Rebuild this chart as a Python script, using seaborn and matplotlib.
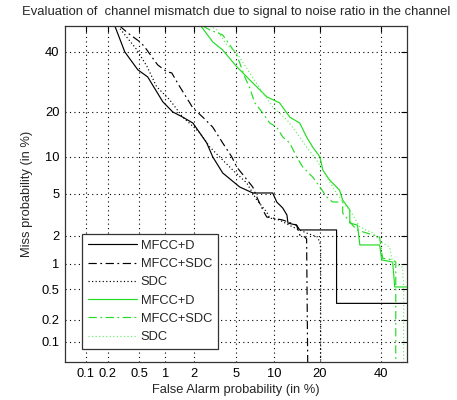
import math
import numpy as np
import pandas as pd
import matplotlib
matplotlib.use("Agg")
import matplotlib.pyplot as plt
import seaborn as sns

# ---- data (percent) ----
tick_values = [0.1, 0.2, 0.5, 1, 2, 5, 10, 20, 40]
tick_labels = ["0.1", "0.2", "0.5", "1", "2", "5", "10", "20", "40"]

fa_k_mfccd = [0.247, 0.331, 0.48, 0.63, 0.94, 1.21, 1.55, 1.97, 2.70, 3.08, 3.81, 5.38, 6.89,
              9.82, 10.5, 11.6, 12.4, 12.6, 14.4, 15.1, 24.9, 24.9, 60.0]
miss_k_mfccd = [50.0, 40.0, 33.4, 30.9, 22.9, 20.0, 18.6, 17.1, 12.6, 10.0, 7.5, 5.74, 5.1,
                5.1, 4.24, 3.73, 3.21, 2.68, 2.56, 2.29, 2.29, 0.33, 0.33]

fa_k_mfccsdc = [0.286, 0.36, 0.51, 0.58, 0.72, 0.82, 1.04, 1.18, 1.44, 1.75, 1.97, 2.47, 3.08,
                3.81, 4.59, 5.07, 5.93, 6.89, 7.42, 8.27, 8.86, 9.82, 11.6, 14.4, 15.1, 16.3,
                16.7, 17.0]
miss_k_mfccsdc = [50.0, 47.3, 43.8, 41.9, 37.7, 35.2, 32.7, 32.3, 27.6, 23.5, 21.1, 18.6, 16.1,
                  12.6, 10.0, 8.36, 6.96, 5.74, 4.70, 3.58, 3.07, 3.0, 2.87, 2.56, 2.03, 1.94,
                  1.85, 0.03]

fa_k_sdc = [0.27, 0.47, 0.62, 0.80, 1.12, 1.55, 2.31, 2.89, 3.81, 4.68, 6.16, 7.42, 8.86, 9.33,
            11.0, 13.6, 16.7, 19.5, 20.3, 20.3]
miss_k_sdc = [50.0, 40.7, 34.5, 27.6, 23.5, 18.6, 14.8, 11.8, 9.47, 7.92, 6.2, 4.42, 3.42, 3.0,
              2.87, 2.45, 2.13, 1.94, 1.6, 0.03]

fa_g_mfccd = [2.37, 3.08, 3.81, 5.07, 6.51, 8.86, 11.0, 12.97, 15.1, 16.7, 18.2, 20.1, 20.9,
              22.8, 25.8, 26.8, 29.1, 29.1, 31.7, 32.5, 39.6, 40.4, 44.5, 45.3, 60.0]
miss_g_mfccd = [50.0, 43.8, 40.7, 34.5, 29.9, 24.4, 22.6, 18.6, 17.1, 13.85, 11.8, 10.0, 7.92,
                6.58, 5.41, 4.42, 3.58, 2.68, 2.56, 1.6, 1.6, 1.10, 1.04, 0.53, 0.53]

fa_g_mfccsdc = [2.47, 2.89, 3.81, 5.07, 5.93, 6.51, 7.15, 8.27, 9.33, 10.5, 11.6, 12.97, 14.4,
                15.8, 18.2, 20.1, 22.0, 23.7, 26.8, 26.8, 31.4, 34.9, 39.6, 40.7, 44.5, 45.7,
                45.7]
miss_g_mfccsdc = [50.0, 48.5, 46.5, 38.9, 30.9, 27.2, 22.6, 19.7, 17.1, 16.1, 13.85, 12.6, 10.0,
                  8.36, 6.96, 5.74, 4.70, 4.24, 4.24, 3.35, 2.29, 2.13, 1.94, 1.15, 1.10, 1.04,
                  0.03]

fa_g_sdc = [2.89, 3.36, 4.15, 5.07, 6.51, 8.27, 9.82, 12.4, 14.4, 16.7, 19.2, 22.0, 24.9, 28.1,
            29.1, 32.5, 37.1, 40.7, 43.4, 44.5, 48.3, 48.7, 48.7]
miss_g_sdc = [50.0, 48.5, 42.7, 39.6, 32.3, 25.6, 21.4, 17.9, 14.8, 11.8, 9.47, 6.96, 5.09, 3.81,
              3.58, 2.45, 2.13, 1.68, 1.52, 1.01, 0.91, 0.53, 0.03]

series = [
    ("MFCC+D", fa_k_mfccd, miss_k_mfccd, "black", "-"),
    ("MFCC+SDC", fa_k_mfccsdc, miss_k_mfccsdc, "black", (0, (7, 3, 1.5, 3))),
    ("SDC", fa_k_sdc, miss_k_sdc, "black", (0, (1, 2))),
    ("MFCC+D", fa_g_mfccd, miss_g_mfccd, "#22dd22", "-"),
    ("MFCC+SDC", fa_g_mfccsdc, miss_g_mfccsdc, "#22dd22", (0, (7, 3, 1.5, 3))),
    ("SDC", fa_g_sdc, miss_g_sdc, "#66ee66", (0, (1, 2))),
]

# ---- normal deviate scale ----
_a = [-3.969683028665376e+01, 2.209460984245205e+02, -2.759285104469687e+02,
      1.383577518672690e+02, -3.066479806614716e+01, 2.506628277459239e+00]
_b = [-5.447609879822406e+01, 1.615858368580409e+02, -1.556989798598866e+02,
      6.680131188771972e+01, -1.328068155288572e+01]
_c = [-7.784894002430293e-03, -3.223964580411365e-01, -2.400758277161838e+00,
      -2.549732539343734e+00, 4.374664141464968e+00, 2.938163982698783e+00]
_d = [7.784695709041462e-03, 3.224671290700398e-01, 2.445134137142996e+00,
      3.754408661907416e+00]


def _ppf(p):
    p = np.clip(np.asarray(p, dtype=float), 1e-12, 1 - 1e-12)
    out = np.empty_like(p)
    plow = 0.02425
    lo = p < plow
    hi = p > 1 - plow
    mid = ~(lo | hi)
    if np.any(lo):
        q = np.sqrt(-2 * np.log(p[lo]))
        out[lo] = (((((_c[0]*q+_c[1])*q+_c[2])*q+_c[3])*q+_c[4])*q+_c[5]) / \
                  ((((_d[0]*q+_d[1])*q+_d[2])*q+_d[3])*q+1)
    if np.any(hi):
        q = np.sqrt(-2 * np.log(1 - p[hi]))
        out[hi] = -(((((_c[0]*q+_c[1])*q+_c[2])*q+_c[3])*q+_c[4])*q+_c[5]) / \
                   ((((_d[0]*q+_d[1])*q+_d[2])*q+_d[3])*q+1)
    if np.any(mid):
        q = p[mid] - 0.5
        r = q * q
        out[mid] = (((((_a[0]*r+_a[1])*r+_a[2])*r+_a[3])*r+_a[4])*r+_a[5])*q / \
                   (((((_b[0]*r+_b[1])*r+_b[2])*r+_b[3])*r+_b[4])*r+1)
    return out


_verf = np.vectorize(math.erf)


def fwd(pct):
    return _ppf(np.asarray(pct, dtype=float) / 100.0)


def inv(z):
    z = np.asarray(z, dtype=float)
    return 100.0 * 0.5 * (1 + _verf(z / math.sqrt(2)))


sns.set_theme(style="white")
plt.rcParams["font.family"] = ["Liberation Sans", "DejaVu Sans"]

fig = plt.figure(figsize=(4.57, 4.0), dpi=100)
ax = fig.add_axes([65 / 457, 38 / 400, 342 / 457, 336 / 400])
ax.set_xscale("function", functions=(fwd, inv))
ax.set_yscale("function", functions=(fwd, inv))

for name, fa, miss, col, ls in series:
    df = pd.DataFrame({"fa": fa, "miss": miss})
    sns.lineplot(data=df, x="fa", y="miss", sort=False, estimator=None, ax=ax,
                 color=col, linestyle=ls, linewidth=0.85, label=name)

ax.set_xlim(0.05, 50)
ax.set_ylim(0.05, 50)
ax.set_xticks(tick_values)
ax.set_xticklabels(tick_labels)
ax.set_yticks(tick_values)
ax.set_yticklabels(tick_labels)
ax.minorticks_off()
ax.grid(True, color="black", linestyle=(0, (1, 3)), linewidth=0.8)
ax.tick_params(direction="in", top=True, right=True, length=4, width=0.8,
               labelsize=9.3, colors="black", pad=4)
for s in ax.spines.values():
    s.set_color("#333333")
    s.set_linewidth(0.9)

ax.set_xlabel("False Alarm probability (in %)", fontsize=9.3, labelpad=3)
ax.set_ylabel("Miss probability (in %)", fontsize=9.3, labelpad=6)
ax.set_title("Evaluation of  channel mismatch due to signal to noise ratio in the channel",
             fontsize=9.4, pad=8)

leg = ax.legend(loc="lower left", bbox_to_anchor=(0.05, 0.039), borderaxespad=0,
                fontsize=9.3, frameon=True, fancybox=False, framealpha=1,
                edgecolor="#333333", handlelength=3.8, handletextpad=0.3,
                labelspacing=0.48, borderpad=0.45)
leg.get_frame().set_linewidth(0.9)

fig.savefig("out.png", dpi=100)
